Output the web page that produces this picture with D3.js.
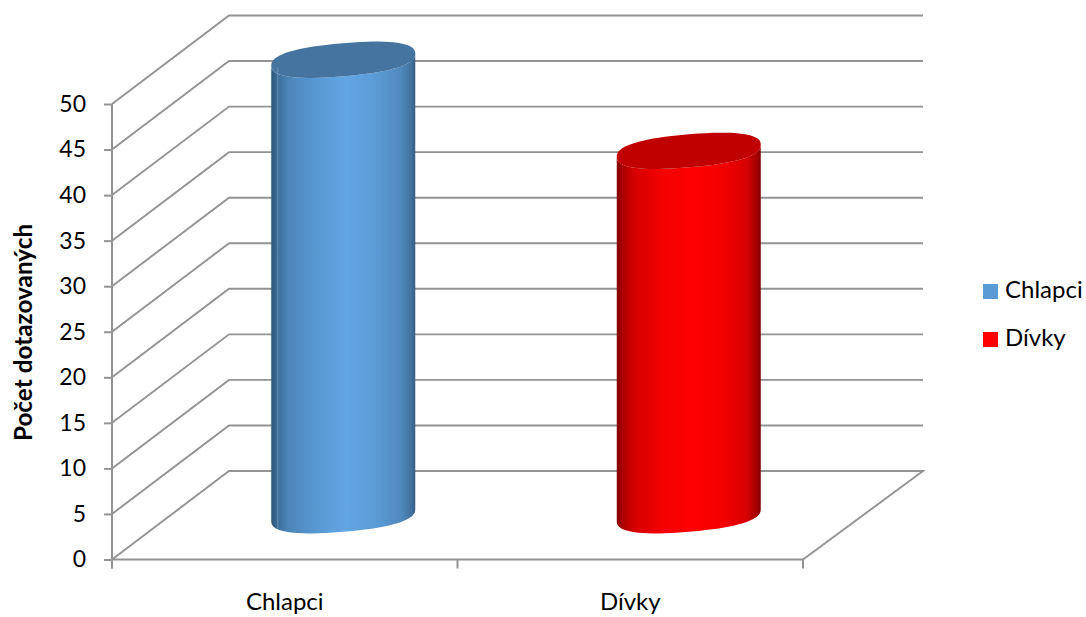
<!DOCTYPE html>
<html>
<head>
<meta charset="utf-8">
<script src="https://cdnjs.cloudflare.com/ajax/libs/d3/7.8.5/d3.min.js"></script>
<style>
    html, body { margin: 0; padding: 0; background: #fff; }
    text { font-family: Lato, "Noto Sans", sans-serif; fill: #000; }
    .domain { display: none; }
</style>
</head>
<body>
<div id="chart"></div>
<script>
const categories = ["Chlapci", "Dívky"];
const values = [50, 40];
const yTicks = [0, 5, 10, 15, 20, 25, 30, 35, 40, 45, 50];
const yTitle = "Počet dotazovaných";

const barColors = [
    {edgeL: "#2c5578", mid: "#62a6e4", edgeR: "#345d83", top: "#44749f"},
    {edgeL: "#800000", mid: "#ff0000", edgeR: "#800000", top: "#c00000"}
];
const legendColors = ["#5b9bd5", "#ff0000"];

const width = 1086, height = 617;
const gridColor = "#939393";
const tickSize = "23px";
const labelSize = "24px";

// depth of the 3D box, the bars stand half way in
const depthX = 117, depthY = -88.5;
const wallRight = 923;
const radiusX = 72, radiusY = 16.5, tilt = -6;

const x = d3.scaleBand().domain(categories).range([112, 803]);
const y = d3.scaleLinear().domain([0, 50]).range([559.5, 104]);

const svg = d3.select("#chart").append("svg")
    .attr("width", width)
    .attr("height", height);

/*
GRID
Side wall diagonal + back wall line for each tick
 */
const gridLine = d3.line();

svg.append("g").selectAll("path")
    .data(yTicks.filter(d => d > 0))
    .enter().append("path")
    .attr("d", d => gridLine([
        [x.range()[0], y(d)],
        [x.range()[0] + depthX, y(d) + depthY],
        [wallRight, y(d) + depthY]
    ]))
    .attr("fill", "none")
    .attr("stroke", gridColor)
    .attr("stroke-width", 1.9);

// floor outline
svg.append("path")
    .attr("d", gridLine([
        [x.range()[0], y(0)],
        [x.range()[0] + depthX, y(0) + depthY],
        [wallRight, y(0) + depthY],
        [x.range()[1], y(0)]
    ]))
    .attr("fill", "none")
    .attr("stroke", gridColor)
    .attr("stroke-width", 1.9);

/*
AXES
 */
const yAxis = svg.append("g")
    .attr("transform", "translate(" + x.range()[0] + ",0)")
    .call(d3.axisLeft(y).tickValues(yTicks).tickSize(8).tickPadding(18));
yAxis.selectAll("text").style("font-size", tickSize);
yAxis.selectAll("line").attr("stroke", gridColor).attr("stroke-width", 2);

svg.append("line")
    .attr("x1", x.range()[0]).attr("x2", x.range()[0])
    .attr("y1", y(50)).attr("y2", y(0) + 9)
    .attr("stroke", gridColor)
    .attr("stroke-width", 2);

svg.append("line")
    .attr("x1", x.range()[0]).attr("x2", x.range()[1])
    .attr("y1", y(0)).attr("y2", y(0))
    .attr("stroke", gridColor)
    .attr("stroke-width", 2);

const xAxis = svg.append("g")
    .attr("transform", "translate(0," + y(0) + ")")
    .call(d3.axisBottom(x).tickSize(0).tickPadding(33));
xAxis.selectAll("text").style("font-size", labelSize);

// ticks sit between the categories, not on them
svg.append("g").selectAll("line")
    .data(categories.map(c => x(c)).concat(x.range()[1]))
    .enter().append("line")
    .attr("x1", d => d).attr("x2", d => d)
    .attr("y1", y(0)).attr("y2", y(0) + 9)
    .attr("stroke", gridColor)
    .attr("stroke-width", 2);

svg.append("text")
    .attr("transform", "translate(32,332.5) rotate(-90)")
    .attr("text-anchor", "middle")
    .style("font-size", "24.3px")
    .style("font-weight", "bold")
    .text(yTitle);

/*
CYLINDERS
 */
let defs = svg.append("defs");

barColors.forEach(function (c, i) {
    let left = d3.interpolateRgb(c.edgeL, c.mid);
    let right = d3.interpolateRgb(c.edgeR, c.mid);
    // the blue one is shaded a bit further in from its sides
    let soft = i === 0 ? 0.08 : 0;
    let grad = defs.append("linearGradient")
        .attr("id", "barFill" + i)
        .attr("x1", 0).attr("x2", 1)
        .attr("y1", 0).attr("y2", 0);
    grad.append("stop").attr("offset", "0").attr("stop-color", c.edgeL);
    grad.append("stop").attr("offset", "0.04").attr("stop-color", left(0.35 - soft));
    grad.append("stop").attr("offset", "0.12").attr("stop-color", left(0.68 - soft));
    grad.append("stop").attr("offset", "0.3").attr("stop-color", left(0.9 - soft));
    grad.append("stop").attr("offset", "0.52").attr("stop-color", c.mid);
    grad.append("stop").attr("offset", "0.75").attr("stop-color", right(0.9 - soft));
    grad.append("stop").attr("offset", "0.9").attr("stop-color", right(0.68 - soft));
    grad.append("stop").attr("offset", "0.97").attr("stop-color", right(0.3));
    grad.append("stop").attr("offset", "1").attr("stop-color", c.edgeR);
});

// rim is slightly squarer than a true ellipse and leans up to the right
function softPow(v) {
    return Math.sign(v) * Math.pow(Math.abs(v), 0.82);
}

function rimPoint(cx, cy, t) {
    let c = softPow(Math.cos(t));
    let s = softPow(Math.sin(t));
    return [
        cx + radiusX * c,
        cy + radiusY * s + tilt * c
    ];
}

function barCenterX(c) {
    return x(c) + x.bandwidth() / 2 + depthX / 2;
}

const angles = d3.range(0, 360, 5).map(d => d * Math.PI / 180);
const halfAngles = d3.range(0, 181, 5).map(d => d * Math.PI / 180);
const baseY = y(0) + depthY / 2;

function bodyPath(c, v) {
    let cx = barCenterX(c);
    let topY = y(v) + depthY / 2;
    // bottom rim goes right to left, then back up over the front of the top rim
    let pts = halfAngles.map(t => rimPoint(cx, baseY, t))
        .concat(halfAngles.slice().reverse().map(t => rimPoint(cx, topY, t)));
    return gridLine(pts) + "Z";
}

let bars = svg.append("g").selectAll("g")
    .data(categories.map((c, i) => ({cat: c, val: values[i], i: i})))
    .enter().append("g");

bars.append("path")
    .attr("d", d => bodyPath(d.cat, d.val))
    .attr("fill", d => "url(#barFill" + d.i + ")");

bars.append("path")
    .attr("d", d => gridLine(angles.map(t => rimPoint(barCenterX(d.cat), y(d.val) + depthY / 2, t))) + "Z")
    .attr("fill", d => barColors[d.i].top);

// faint seam down the left side of the first cylinder
svg.append("line")
    .attr("x1", barCenterX(categories[0]) - radiusX + 6.5)
    .attr("x2", barCenterX(categories[0]) - radiusX + 6.5)
    .attr("y1", y(values[0]) + depthY / 2 + 8)
    .attr("y2", baseY + 14)
    .attr("stroke", "#ffffff")
    .attr("stroke-opacity", 0.22)
    .attr("stroke-width", 1);

/*
LEGEND
 */
let legend = svg.append("g").selectAll("g")
    .data(categories)
    .enter().append("g")
    .attr("transform", (d, i) => "translate(983," + (284 + i * 48) + ")");

legend.append("rect")
    .attr("width", 15)
    .attr("height", 15)
    .attr("fill", (d, i) => legendColors[i]);

legend.append("text")
    .attr("x", 22)
    .attr("y", 14)
    .style("font-size", labelSize)
    .text(d => d);
</script>
</body>
</html>
